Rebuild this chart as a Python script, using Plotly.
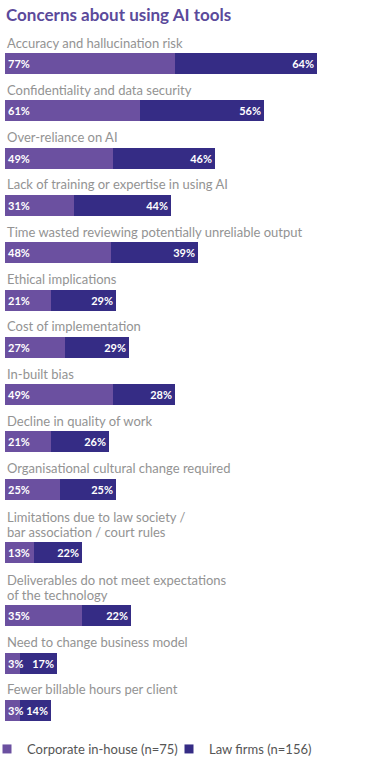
import plotly.graph_objects as go

# ---- data ----
categories = [
    "Accuracy and hallucination risk",
    "Confidentiality and data security",
    "Over-reliance on AI",
    "Lack of training or expertise in using AI",
    "Time wasted reviewing potentially unreliable output",
    "Ethical implications",
    "Cost of implementation",
    "In-built bias",
    "Decline in quality of work",
    "Organisational cultural change required",
    "Limitations due to law society /<br>bar association / court rules",
    "Deliverables do not meet expectations<br>of the technology",
    "Need to change business model",
    "Fewer billable hours per client",
]
corporate = [77, 61, 49, 31, 48, 21, 27, 49, 21, 25, 13, 35, 3, 3]
law_firms = [64, 56, 46, 44, 39, 29, 29, 28, 26, 25, 22, 22, 17, 14]
series_names = ["Corporate in-house (n=75)", "Law firms (n=156)"]
title_text = "Concerns about using AI tools"

# ---- style / layout constants ----
W, H = 378, 760
C_CORP = "#6b50a0"
C_LAW = "#352c85"
C_TITLE = "#5b4a9b"
C_LABEL = "#939393"
FONT = "Lato"
MARGIN_L = 5
PX_PER_UNIT = 2.2128
FIRST_CENTER = 63.5
ROW_PITCH = 47.3
EXTRA_LINE = 16
BAR_H = 21
LABEL_GAP = 10.5
LINE_SPACING = 15
MIN_SEG = 6.6  # minimum visual segment so the label fits (as in the original)
LEGEND_Y = 749
LEGEND_LEFTS = [-13, 169]  # px, left edge of each legend box

# row centres (in pixel-like y units), computed from label line counts
centers = []
extra = 0
for i, c in enumerate(categories):
    n_lines = c.count("<br>") + 1
    extra += (n_lines - 1) * EXTRA_LINE
    centers.append(FIRST_CENTER + i * ROW_PITCH + extra)

corp_vis = [max(v, MIN_SEG) for v in corporate]

fig = go.Figure()
# law firms drawn first (based after the corporate segment), so corporate labels sit on top
fig.add_trace(go.Bar(
    y=centers, x=law_firms, base=corp_vis, orientation="h", width=BAR_H,
    marker=dict(color=C_LAW, line=dict(width=0)),
    text=[f"{v}%" for v in law_firms], textposition="inside",
    insidetextanchor="end", textangle=0, constraintext="none",
    textfont=dict(family=FONT, size=11, color="white", weight="bold"),
    name=series_names[1], showlegend=False,
    customdata=categories, hovertemplate="%{customdata}: %{text}<extra></extra>",
))
fig.add_trace(go.Bar(
    y=centers, x=corp_vis, orientation="h", width=BAR_H,
    marker=dict(color=C_CORP, line=dict(width=0)),
    text=[f"{v}%" for v in corporate], textposition="inside",
    insidetextanchor="start", textangle=0, constraintext="none",
    textfont=dict(family=FONT, size=11, color="white", weight="bold"),
    name=series_names[0], showlegend=False,
    customdata=categories, hovertemplate="%{customdata}: %{text}<extra></extra>",
))
# legend entries (one legend box per series)
for nm, col, lg in zip(series_names, [C_CORP, C_LAW], ["legend", "legend2"]):
    fig.add_trace(go.Scatter(
        x=[None], y=[None], mode="markers", name=nm, legend=lg,
        marker=dict(symbol="square", size=9, color=col),
    ))

annotations = []
for c, yc in zip(categories, centers):
    lines = c.split("<br>")
    n = len(lines)
    top = yc - BAR_H / 2
    for k, ln in enumerate(lines):
        annotations.append(dict(
            text=ln, xref="paper", x=0, xanchor="left",
            yref="y", y=top - LABEL_GAP - (n - 1 - k) * LINE_SPACING, yanchor="middle",
            showarrow=False, font=dict(family=FONT, size=13, color=C_LABEL),
        ))

plot_w = W - MARGIN_L
legend_common = dict(orientation="h", xanchor="left", y=1 - LEGEND_Y / H, yanchor="middle",
                     font=dict(family=FONT, size=13, color="#555555"),
                     bgcolor="rgba(0,0,0,0)", borderwidth=0)
fig.update_layout(
    width=W, height=H,
    margin=dict(l=MARGIN_L, r=0, t=0, b=0, autoexpand=False),
    paper_bgcolor="white", plot_bgcolor="white",
    barmode="overlay", bargap=0,
    title=dict(text=f"<b>{title_text}</b>", xref="container", yref="container",
               x=6 / W, xanchor="left", y=1 - 15 / H, yanchor="middle",
               font=dict(family=FONT, size=17, color=C_TITLE)),
    xaxis=dict(range=[0, plot_w / PX_PER_UNIT], visible=False, fixedrange=True),
    yaxis=dict(range=[H, 0], visible=False, fixedrange=True),
    showlegend=True,
    legend=dict(x=(LEGEND_LEFTS[0] - MARGIN_L) / plot_w, **legend_common),
    legend2=dict(x=(LEGEND_LEFTS[1] - MARGIN_L) / plot_w, **legend_common),
    annotations=annotations,
)

fig.write_html("out.html", config={"displayModeBar": False},
               post_script="document.body.style.margin='0';")
